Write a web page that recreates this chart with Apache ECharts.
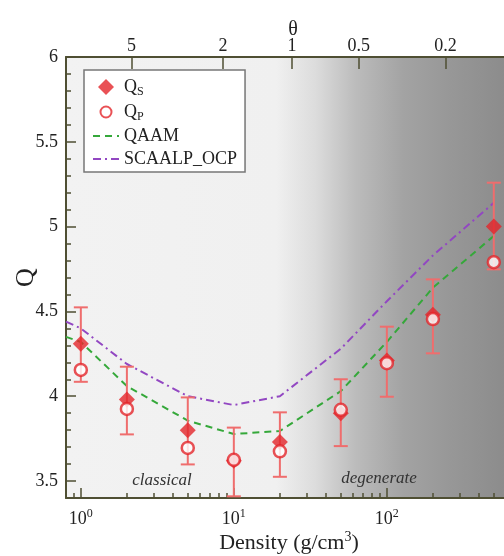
<!DOCTYPE html>
<html>
<head>
<meta charset="utf-8">
<script src="https://cdn.jsdelivr.net/npm/echarts@6/dist/echarts.min.js"></script>
<style>
html, body { margin: 0; padding: 0; background: #fff; }
#chart { width: 504px; height: 556px; }
</style>
</head>
<body>
<div id="chart"></div>
<script>
// measured points
const densities = [1, 2, 5, 10, 20, 50, 100, 200, 500]
const qS = [4.31, 3.98, 3.80, 3.62, 3.73, 3.90, 4.21, 4.48, 5.00]
const qP = [4.155, 3.925, 3.695, 3.625, 3.675, 3.92, 4.195, 4.455, 4.79]
const errLow = [4.085, 3.775, 3.598, 3.41, 3.525, 3.706, 3.997, 4.253, 4.748]
const errHigh = [4.524, 4.174, 3.993, 3.815, 3.905, 4.10, 4.41, 4.689, 5.259]

// model curves
const modelDensities = [0.8, 1, 2, 5, 10, 20, 50, 100, 200, 500]
const qaam = [4.35, 4.32, 4.06, 3.856, 3.777, 3.795, 4.03, 4.32, 4.64, 4.945]
const scaalp = [4.44, 4.40, 4.19, 4.0, 3.948, 4.0, 4.28, 4.56, 4.83, 5.14]

// ticks
const xMajorTicks = [1, 10, 100]
const xMinorTicks = [0.9, 2, 3, 4, 5, 6, 7, 8, 9, 20, 30, 40, 50, 60, 70, 80, 90, 200, 300, 400, 500]
const yMajorTicks = [3.5, 4, 4.5, 5, 5.5, 6]
const yMinorTicks = [3.6, 3.7, 3.8, 3.9, 4.1, 4.2, 4.3, 4.4, 4.6, 4.7, 4.8, 4.9, 5.1, 5.2, 5.3, 5.4, 5.6, 5.7, 5.8, 5.9]
const thetaLabels = ['5', '2', '1', '0.5', '0.2']
const thetaDensity = [2.14, 8.5, 24, 65.6, 242]

const X_MIN = 0.8
const X_MAX = 583
const axisColor = '#4f4f33'
const serif = '"Liberation Serif", "DejaVu Serif", serif'
const red = '#e3262a'
const errColor = '#ef6d6d'
// legend symbols padded out to the 26x16 legend box so they are not stretched
const legendDiamond = 'path://M0,8L0,8M13,0L21,8L13,16L5,8ZM26,8L26,8'
const legendCircle = 'path://M0,8L0,8M13,2.5A5.5,5.5 0 1 1 13,13.5A5.5,5.5 0 1 1 13,2.5ZM26,8L26,8M13,0L13,0M13,16L13,16'

const chart = echarts.init(document.getElementById('chart'))

function thetaFor(v) {
  let best = 0
  thetaDensity.forEach((d, i) => {
    if (Math.abs(Math.log(d / v)) < Math.abs(Math.log(thetaDensity[best] / v))) best = i
  })
  return thetaLabels[best]
}

const lineAxis = { show: true, onZero: false, lineStyle: { color: axisColor, width: 2 } }
const tickStyle = { color: axisColor, width: 1.5 }
const supStyle = { fontFamily: serif, fontSize: 12, color: '#222', lineHeight: 10, padding: [0, 0, 10, 0] }

chart.setOption({
  animation: false,
  grid: {
    left: 66, right: 0, top: 57, bottom: 58,
    containLabel: false, outerBoundsMode: 'none',
    show: true, borderWidth: 0,
    backgroundColor: new echarts.graphic.LinearGradient(0, 0, 1, 0, [
      { offset: 0, color: '#f2f2f2' },
      { offset: 0.48, color: '#f0f0f0' },
      { offset: 0.57, color: '#dcdcdc' },
      { offset: 0.66, color: '#bcbcbc' },
      { offset: 0.77, color: '#a3a3a3' },
      { offset: 0.87, color: '#989898' },
      { offset: 1, color: '#8c8c8c' }
    ])
  },
  legend: {
    orient: 'vertical',
    left: 84, top: 70,
    padding: [6, 8, 3, 8],
    itemGap: 3,
    itemWidth: 26,
    itemHeight: 16,
    backgroundColor: '#fff',
    borderColor: '#777',
    borderWidth: 1.5,
    borderRadius: 0,
    data: [
      { name: 'QS', icon: legendDiamond },
      { name: 'QP', icon: legendCircle },
      { name: 'QAAM', itemStyle: { opacity: 0 } },
      { name: 'SCAALP_OCP', itemStyle: { opacity: 0 } }
    ],
    formatter: name => name === 'QS' ? 'Q{sub|S}' : name === 'QP' ? 'Q{sub|P}' : name,
    textStyle: {
      fontFamily: serif, fontSize: 18, color: '#222', lineHeight: 20,
      rich: {
        sub: { fontFamily: serif, fontSize: 12, color: '#222', lineHeight: 10, padding: [10, 0, 0, 0] }
      }
    }
  },
  graphic: [
    { type: 'text', x: 162, y: 481, style: { text: 'classical', font: 'italic 17px ' + serif, fill: '#333', textAlign: 'center', textVerticalAlign: 'middle' } },
    { type: 'text', x: 379, y: 479, style: { text: 'degenerate', font: 'italic 17px ' + serif, fill: '#333', textAlign: 'center', textVerticalAlign: 'middle' } }
  ],
  xAxis: [
    {
      type: 'log', min: X_MIN, max: X_MAX, position: 'bottom',
      axisLine: lineAxis,
      axisTick: { inside: true, length: 10, customValues: xMajorTicks, lineStyle: tickStyle },
      axisLabel: {
        customValues: xMajorTicks, margin: 12,
        formatter: v => '10{sup|' + Math.round(Math.log10(v)) + '}',
        fontFamily: serif, fontSize: 18, color: '#222',
        rich: { sup: supStyle }
      },
      splitLine: { show: false },
      name: 'Density (g/cm{sup|3})', nameLocation: 'middle', nameGap: 34, nameMoveOverlap: false,
      nameTextStyle: {
        fontFamily: serif, fontSize: 22, color: '#222', padding: [0, 0, 0, 8],
        rich: { sup: { fontFamily: serif, fontSize: 14, color: '#222', lineHeight: 12, padding: [0, 0, 12, 0] } }
      }
    },
    {
      type: 'log', min: X_MIN, max: X_MAX, position: 'bottom',
      axisLine: { show: false },
      axisTick: { inside: true, length: 5, customValues: xMinorTicks, lineStyle: tickStyle },
      axisLabel: { show: false },
      splitLine: { show: false }
    },
    {
      type: 'log', min: X_MIN, max: X_MAX, position: 'top',
      axisLine: lineAxis,
      axisTick: { inside: true, length: 12, customValues: thetaDensity, lineStyle: tickStyle },
      axisLabel: {
        customValues: thetaDensity, margin: 2, formatter: thetaFor,
        fontFamily: serif, fontSize: 18, color: '#222'
      },
      splitLine: { show: false },
      name: 'θ', nameLocation: 'middle', nameGap: 17, nameMoveOverlap: false,
      nameTextStyle: { fontFamily: serif, fontSize: 20, color: '#222', padding: [0, 0, 0, 16] }
    }
  ],
  yAxis: [
    {
      type: 'value', min: 3.4, max: 6, position: 'left',
      axisLine: lineAxis,
      axisTick: { inside: true, length: 10, customValues: yMajorTicks, lineStyle: tickStyle },
      axisLabel: {
        customValues: yMajorTicks, margin: 8,
        formatter: v => String(v),
        fontFamily: serif, fontSize: 18, color: '#222'
      },
      splitLine: { show: false },
      name: 'Q', nameLocation: 'middle', nameGap: 27, nameMoveOverlap: false,
      nameTextStyle: { fontFamily: serif, fontSize: 26, color: '#222' }
    },
    {
      type: 'value', min: 3.4, max: 6, position: 'left',
      axisLine: { show: false },
      axisTick: { inside: true, length: 5, customValues: yMinorTicks, lineStyle: tickStyle },
      axisLabel: { show: false },
      splitLine: { show: false }
    }
  ],
  series: [
    {
      name: 'QAAM', type: 'line', symbol: 'none', z: 2,
      lineStyle: { color: '#35a83a', width: 2, type: [7, 5] },
      itemStyle: { color: '#35a83a' },
      data: modelDensities.map((d, i) => [d, qaam[i]])
    },
    {
      name: 'SCAALP_OCP', type: 'line', symbol: 'none', z: 2,
      lineStyle: { color: '#9247c2', width: 2, type: [8, 4, 2, 4] },
      itemStyle: { color: '#9247c2' },
      data: modelDensities.map((d, i) => [d, scaalp[i]])
    },
    {
      name: 'err', type: 'custom', z: 3,
      encode: { x: 0, y: [1, 2] },
      data: densities.map((d, i) => [d, errLow[i], errHigh[i]]),
      renderItem(params, api) {
        const x = api.value(0)
        const lo = api.coord([x, api.value(1)])
        const hi = api.coord([x, api.value(2)])
        const w = 7
        const style = { stroke: errColor, lineWidth: 2 }
        return {
          type: 'group',
          children: [
            { type: 'line', shape: { x1: lo[0], y1: lo[1], x2: hi[0], y2: hi[1] }, style },
            { type: 'line', shape: { x1: lo[0] - w, y1: lo[1], x2: lo[0] + w, y2: lo[1] }, style },
            { type: 'line', shape: { x1: hi[0] - w, y1: hi[1], x2: hi[0] + w, y2: hi[1] }, style }
          ]
        }
      }
    },
    {
      name: 'QS', type: 'scatter', symbol: 'diamond', symbolSize: 16, z: 4,
      itemStyle: { color: red },
      data: densities.map((d, i) => [d, qS[i]])
    },
    {
      name: 'QP', type: 'scatter', symbol: 'circle', symbolSize: 12, z: 5,
      itemStyle: { color: '#fff', borderColor: red, borderWidth: 2.5 },
      data: densities.map((d, i) => [d, qP[i]])
    }
  ]
})

window.addEventListener('resize', () => chart.resize())
</script>
</body>
</html>
